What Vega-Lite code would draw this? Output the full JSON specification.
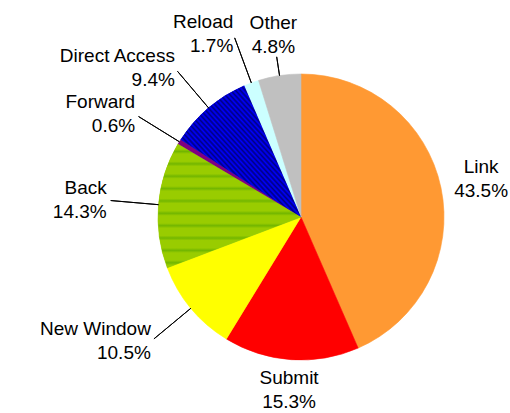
{
  "$schema": "https://vega.github.io/schema/vega-lite/v6.json",
  "autosize": {"type": "none"},
  "width": 418,
  "height": 392,
  "padding": {"left": 92, "top": 21, "right": 0, "bottom": 0},
  "background": "white",
  "config": {"view": {"stroke": null}},
  "data": {
    "values": [
      {"category": "Link", "value": 43.5, "order": 1},
      {"category": "Submit", "value": 15.3, "order": 2},
      {"category": "New Window", "value": 10.5, "order": 3},
      {"category": "Back", "value": 14.3, "order": 4},
      {"category": "Forward", "value": 0.6, "order": 5},
      {"category": "Direct Access", "value": 9.4, "order": 6},
      {"category": "Reload", "value": 1.7, "order": 7},
      {"category": "Other", "value": 4.8, "order": 8}
    ]
  },
  "transform": [
    {"window": [{"op": "sum", "field": "value", "as": "cum"}], "sort": [{"field": "order"}], "frame": [null, 0]},
    {"calculate": "datum.cum - datum.value", "as": "start"},
    {"calculate": "datum.cum - datum.value / 2", "as": "mid"},
    {"calculate": "datum.category + '|' + format(datum.value, '.1f') + '%'", "as": "label"}
  ],
  "layer": [
    {
      "mark": {"type": "arc", "radius": 143, "strokeWidth": 0.6},
      "encoding": {
        "theta": {"field": "start", "type": "quantitative", "stack": false, "scale": {"domain": [0, 100.1], "range": [0, 6.283185307]}},
        "theta2": {"field": "cum"},
        "color": {
          "field": "category", "type": "nominal", "legend": null,
          "scale": {
            "domain": ["Link", "Submit", "New Window", "Back", "Forward", "Direct Access", "Reload", "Other"],
            "range": ["#FF9933", "#FF0000", "#FFFF00", "#99CC00", "#800080", "#0000CC", "#CCFFFF", "#C0C0C0"]
          }
        },
        "stroke": {
          "field": "category", "type": "nominal", "legend": null,
          "scale": {
            "domain": ["Link", "Submit", "New Window", "Back", "Forward", "Direct Access", "Reload", "Other"],
            "range": ["#FF9933", "#FF0000", "#FFFF00", "#99CC00", "#800080", "#0000CC", "#CCFFFF", "#C0C0C0"]
          }
        }
      }
    },
    {
      "transform": [{"filter": "datum.category === 'Direct Access'"}],
      "mark": {
        "type": "arc", "radius": 143, "strokeWidth": 0,
        "fill": {
          "gradient": "linear", "x1": 0, "y1": 1, "x2": 1, "y2": 0,
          "stops": [
            {"offset": 0.00, "color": "#0000FF"}, {"offset": 0.01, "color": "#000080"},
            {"offset": 0.02, "color": "#0000FF"}, {"offset": 0.03, "color": "#000080"},
            {"offset": 0.04, "color": "#0000FF"}, {"offset": 0.05, "color": "#000080"},
            {"offset": 0.06, "color": "#0000FF"}, {"offset": 0.07, "color": "#000080"},
            {"offset": 0.08, "color": "#0000FF"}, {"offset": 0.09, "color": "#000080"},
            {"offset": 0.10, "color": "#0000FF"}, {"offset": 0.11, "color": "#000080"},
            {"offset": 0.12, "color": "#0000FF"}, {"offset": 0.13, "color": "#000080"},
            {"offset": 0.14, "color": "#0000FF"}, {"offset": 0.15, "color": "#000080"},
            {"offset": 0.16, "color": "#0000FF"}, {"offset": 0.17, "color": "#000080"},
            {"offset": 0.18, "color": "#0000FF"}, {"offset": 0.19, "color": "#000080"},
            {"offset": 0.20, "color": "#0000FF"}, {"offset": 0.21, "color": "#000080"},
            {"offset": 0.22, "color": "#0000FF"}, {"offset": 0.23, "color": "#000080"},
            {"offset": 0.24, "color": "#0000FF"}, {"offset": 0.25, "color": "#000080"},
            {"offset": 0.26, "color": "#0000FF"}, {"offset": 0.27, "color": "#000080"},
            {"offset": 0.28, "color": "#0000FF"}, {"offset": 0.29, "color": "#000080"},
            {"offset": 0.30, "color": "#0000FF"}, {"offset": 0.31, "color": "#000080"},
            {"offset": 0.32, "color": "#0000FF"}, {"offset": 0.33, "color": "#000080"},
            {"offset": 0.34, "color": "#0000FF"}, {"offset": 0.35, "color": "#000080"},
            {"offset": 0.36, "color": "#0000FF"}, {"offset": 0.37, "color": "#000080"},
            {"offset": 0.38, "color": "#0000FF"}, {"offset": 0.39, "color": "#000080"},
            {"offset": 0.40, "color": "#0000FF"}, {"offset": 0.41, "color": "#000080"},
            {"offset": 0.42, "color": "#0000FF"}, {"offset": 0.43, "color": "#000080"},
            {"offset": 0.44, "color": "#0000FF"}, {"offset": 0.45, "color": "#000080"},
            {"offset": 0.46, "color": "#0000FF"}, {"offset": 0.47, "color": "#000080"},
            {"offset": 0.48, "color": "#0000FF"}, {"offset": 0.49, "color": "#000080"},
            {"offset": 0.50, "color": "#0000FF"}, {"offset": 0.51, "color": "#000080"},
            {"offset": 0.52, "color": "#0000FF"}, {"offset": 0.53, "color": "#000080"},
            {"offset": 0.54, "color": "#0000FF"}, {"offset": 0.55, "color": "#000080"},
            {"offset": 0.56, "color": "#0000FF"}, {"offset": 0.57, "color": "#000080"},
            {"offset": 0.58, "color": "#0000FF"}, {"offset": 0.59, "color": "#000080"},
            {"offset": 0.60, "color": "#0000FF"}, {"offset": 0.61, "color": "#000080"},
            {"offset": 0.62, "color": "#0000FF"}, {"offset": 0.63, "color": "#000080"},
            {"offset": 0.64, "color": "#0000FF"}, {"offset": 0.65, "color": "#000080"},
            {"offset": 0.66, "color": "#0000FF"}, {"offset": 0.67, "color": "#000080"},
            {"offset": 0.68, "color": "#0000FF"}, {"offset": 0.69, "color": "#000080"},
            {"offset": 0.70, "color": "#0000FF"}, {"offset": 0.71, "color": "#000080"},
            {"offset": 0.72, "color": "#0000FF"}, {"offset": 0.73, "color": "#000080"},
            {"offset": 0.74, "color": "#0000FF"}, {"offset": 0.75, "color": "#000080"},
            {"offset": 0.76, "color": "#0000FF"}, {"offset": 0.77, "color": "#000080"},
            {"offset": 0.78, "color": "#0000FF"}, {"offset": 0.79, "color": "#000080"},
            {"offset": 0.80, "color": "#0000FF"}, {"offset": 0.81, "color": "#000080"},
            {"offset": 0.82, "color": "#0000FF"}, {"offset": 0.83, "color": "#000080"},
            {"offset": 0.84, "color": "#0000FF"}, {"offset": 0.85, "color": "#000080"},
            {"offset": 0.86, "color": "#0000FF"}, {"offset": 0.87, "color": "#000080"},
            {"offset": 0.88, "color": "#0000FF"}, {"offset": 0.89, "color": "#000080"},
            {"offset": 0.90, "color": "#0000FF"}, {"offset": 0.91, "color": "#000080"},
            {"offset": 0.92, "color": "#0000FF"}, {"offset": 0.93, "color": "#000080"},
            {"offset": 0.94, "color": "#0000FF"}, {"offset": 0.95, "color": "#000080"},
            {"offset": 0.96, "color": "#0000FF"}, {"offset": 0.97, "color": "#000080"},
            {"offset": 0.98, "color": "#0000FF"}, {"offset": 0.99, "color": "#000080"},
            {"offset": 1.00, "color": "#0000FF"}
          ]
        }
      },
      "encoding": {
        "theta": {"field": "start", "type": "quantitative", "stack": false, "scale": {"domain": [0, 100.1], "range": [0, 6.283185307]}},
        "theta2": {"field": "cum"}
      }
    },
    {
      "transform": [{"filter": "datum.category === 'Back'"}],
      "mark": {
        "type": "arc", "radius": 143, "strokeWidth": 0,
        "fill": {
          "gradient": "linear", "x1": 0, "y1": 0, "x2": 0, "y2": 1,
          "stops": [
            {"offset": 0.00, "color": "#99CC00"}, {"offset": 0.04, "color": "#99CC00"}, {"offset": 0.06, "color": "#72B600"}, {"offset": 0.08, "color": "#99CC00"},
            {"offset": 0.10, "color": "#99CC00"}, {"offset": 0.14, "color": "#99CC00"}, {"offset": 0.16, "color": "#72B600"}, {"offset": 0.18, "color": "#99CC00"},
            {"offset": 0.20, "color": "#99CC00"}, {"offset": 0.24, "color": "#99CC00"}, {"offset": 0.26, "color": "#72B600"}, {"offset": 0.28, "color": "#99CC00"},
            {"offset": 0.30, "color": "#99CC00"}, {"offset": 0.34, "color": "#99CC00"}, {"offset": 0.36, "color": "#72B600"}, {"offset": 0.38, "color": "#99CC00"},
            {"offset": 0.40, "color": "#99CC00"}, {"offset": 0.44, "color": "#99CC00"}, {"offset": 0.46, "color": "#72B600"}, {"offset": 0.48, "color": "#99CC00"},
            {"offset": 0.50, "color": "#99CC00"}, {"offset": 0.54, "color": "#99CC00"}, {"offset": 0.56, "color": "#72B600"}, {"offset": 0.58, "color": "#99CC00"},
            {"offset": 0.60, "color": "#99CC00"}, {"offset": 0.64, "color": "#99CC00"}, {"offset": 0.66, "color": "#72B600"}, {"offset": 0.68, "color": "#99CC00"},
            {"offset": 0.70, "color": "#99CC00"}, {"offset": 0.74, "color": "#99CC00"}, {"offset": 0.76, "color": "#72B600"}, {"offset": 0.78, "color": "#99CC00"},
            {"offset": 0.80, "color": "#99CC00"}, {"offset": 0.84, "color": "#99CC00"}, {"offset": 0.86, "color": "#72B600"}, {"offset": 0.88, "color": "#99CC00"},
            {"offset": 0.90, "color": "#99CC00"}, {"offset": 0.94, "color": "#99CC00"}, {"offset": 0.96, "color": "#72B600"}, {"offset": 0.98, "color": "#99CC00"},
            {"offset": 1.00, "color": "#99CC00"}
          ]
        }
      },
      "encoding": {
        "theta": {"field": "start", "type": "quantitative", "stack": false, "scale": {"domain": [0, 100.1], "range": [0, 6.283185307]}},
        "theta2": {"field": "cum"}
      }
    },
    {
      "transform": [{"filter": "datum.mid >= 60 && datum.mid < 97"}],
      "mark": {"type": "arc", "radius": 191, "radius2": 143, "filled": false, "stroke": "#000000", "strokeWidth": 1},
      "encoding": {
        "theta": {"field": "mid", "type": "quantitative", "stack": false, "scale": {"domain": [0, 100.1], "range": [0, 6.283185307]}},
        "theta2": {"field": "mid"}
      }
    },
    {
      "transform": [{"filter": "datum.mid >= 97"}],
      "mark": {"type": "arc", "radius": 162, "radius2": 143, "filled": false, "stroke": "#000000", "strokeWidth": 1},
      "encoding": {
        "theta": {"field": "mid", "type": "quantitative", "stack": false, "scale": {"domain": [0, 100.1], "range": [0, 6.283185307]}},
        "theta2": {"field": "mid"}
      }
    },
    {
      "transform": [{"filter": "datum.mid < 35 || datum.mid >= 97"}],
      "mark": {"type": "text", "radius": 184, "dy": -12, "align": "center", "baseline": "middle", "font": "Liberation Sans", "fontSize": 19, "lineBreak": "|", "lineHeight": 24, "color": "#000000"},
      "encoding": {
        "theta": {"field": "mid", "type": "quantitative", "stack": false, "scale": {"domain": [0, 100.1], "range": [0, 6.283185307]}},
        "text": {"field": "label", "type": "nominal"}
      }
    },
    {
      "transform": [{"filter": "datum.mid >= 35 && datum.mid < 60"}],
      "mark": {"type": "text", "radius": 173, "dy": -12, "align": "center", "baseline": "middle", "font": "Liberation Sans", "fontSize": 19, "lineBreak": "|", "lineHeight": 24, "color": "#000000"},
      "encoding": {
        "theta": {"field": "mid", "type": "quantitative", "stack": false, "scale": {"domain": [0, 100.1], "range": [0, 6.283185307]}},
        "text": {"field": "label", "type": "nominal"}
      }
    },
    {
      "transform": [{"filter": "datum.mid >= 60 && datum.mid < 97"}],
      "mark": {"type": "text", "radius": 195, "dy": -12, "align": "right", "baseline": "middle", "font": "Liberation Sans", "fontSize": 19, "lineBreak": "|", "lineHeight": 24, "color": "#000000"},
      "encoding": {
        "theta": {"field": "mid", "type": "quantitative", "stack": false, "scale": {"domain": [0, 100.1], "range": [0, 6.283185307]}},
        "text": {"field": "label", "type": "nominal"}
      }
    }
  ]
}
